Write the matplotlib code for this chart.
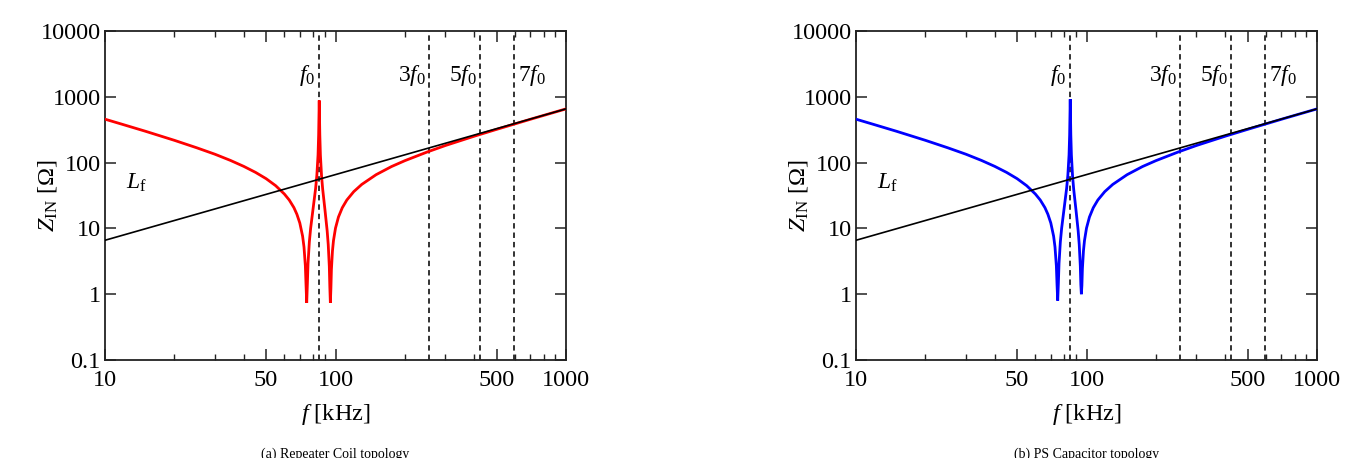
import matplotlib
matplotlib.use("Agg")
import matplotlib.pyplot as plt
from matplotlib.ticker import FixedLocator, FixedFormatter, NullFormatter

plt.rcParams['font.family'] = ['Liberation Serif', 'DejaVu Serif']
plt.rcParams['mathtext.fontset'] = 'custom'
plt.rcParams['mathtext.rm'] = 'Liberation Serif'
plt.rcParams['mathtext.it'] = 'Liberation Serif:italic'
plt.rcParams['mathtext.bf'] = 'Liberation Serif:bold'

# ---------------- data ----------------
freq_khz = [10, 12, 15, 20, 25, 30, 35, 40, 45, 50, 55, 60, 63, 66, 68, 70, 72, 73, 74,
            74.5, 75, 75.5, 76, 77, 78, 80, 82, 83, 84, 84.5, 85, 85.5, 86, 87, 88, 90,
            92, 93, 94, 94.5, 95, 95.5, 96, 97, 98, 100, 103, 107, 112, 120, 130, 150,
            175, 200, 250, 300, 400, 500, 700, 1000]

z_repeater = [457, 378, 299, 218, 168, 134, 108, 87.6, 71.0, 57.0, 44.6, 33.3, 27.0, 20.7,
              16.4, 12.1, 7.61, 5.21, 2.70, 1.38, 0.74, 1.44, 2.94, 6.22, 10.0, 20.4, 40.7,
              63.9, 131, 263, 880, 262, 130, 62.4, 39.2, 19.2, 9.22, 5.67, 2.65, 1.28, 0.74,
              1.21, 2.37, 4.52, 6.52, 10.1, 14.9, 20.6, 27.0, 36.2, 46.6, 65.5, 87.1, 107,
              145, 182, 252, 320, 455, 655]

z_ps_cap = [457, 378, 299, 218, 168, 134, 108, 87.6, 71.0, 57.0, 44.6, 33.3, 27.0, 20.7,
            16.4, 12.1, 7.61, 5.21, 2.70, 1.40, 0.80, 1.46, 2.96, 6.22, 10.0, 20.4, 40.7,
            63.9, 131, 263, 920, 262, 130, 62.4, 39.2, 19.2, 9.22, 5.67, 2.70, 1.40, 1.00,
            1.35, 2.45, 4.55, 6.52, 10.1, 14.9, 20.6, 27.0, 36.2, 46.6, 65.5, 87.1, 107,
            145, 182, 252, 320, 455, 655]

lf_freq = [10, 1000]
lf_z = [6.6, 655]

harm_freq = [85, 255, 425, 595]
harm_labels = [r'$f_0$', r'$3f_0$', r'$5f_0$', r'$7f_0$']
harm_label_side = ['left', 'left', 'left', 'right']

x_major = [10, 50, 100, 500, 1000]
x_major_labels = ['10', '50', '100', '500', '1000']
x_minor = [20, 30, 40, 60, 70, 80, 90, 200, 300, 400, 600, 700, 800, 900]
y_major = [0.1, 1, 10, 100, 1000, 10000]
y_major_labels = ['0.1', '1', '10', '100', '1000', '10000']

panels = [
    (z_repeater, '#ff0000', '(a) Repeater Coil topology'),
    (z_ps_cap, '#0000ff', '(b) PS Capacitor topology'),
]

# ---------------- figure ----------------
W, H = 1364, 458
fig = plt.figure(figsize=(W / 100, H / 100), dpi=100)

axes_px = [(105, 566), (856, 1317)]
top_px, bot_px = 31, 360

for (x0, x1), (zvals, color, caption) in zip(axes_px, panels):
    ax = fig.add_axes([x0 / W, 1 - bot_px / H, (x1 - x0) / W, (bot_px - top_px) / H])
    ax.set_xscale('log')
    ax.set_yscale('log')
    ax.set_xlim(10, 1000)
    ax.set_ylim(0.1, 10000)

    for fh in harm_freq:
        ax.axvline(fh, color='#222222', lw=1.3, ls=(0, (3, 2.2)), zorder=1)

    ax.plot(freq_khz, zvals, color=color, lw=2.0, zorder=3, solid_joinstyle='miter')
    ax.plot(lf_freq, lf_z, color='black', lw=1.2, zorder=4)

    for fh, lab, side in zip(harm_freq, harm_labels, harm_label_side):
        if side == 'left':
            ax.text(fh * 0.965, 2100, lab, ha='right', va='center', fontsize=17)
        else:
            ax.text(fh * 1.04, 2100, lab, ha='left', va='center', fontsize=17)

    ax.text(12.3, 50, r'$L_{\mathrm{f}}$', ha='left', va='center', fontsize=17)

    ax.xaxis.set_major_locator(FixedLocator(x_major))
    ax.xaxis.set_major_formatter(FixedFormatter(x_major_labels))
    ax.xaxis.set_minor_locator(FixedLocator(x_minor))
    ax.xaxis.set_minor_formatter(NullFormatter())
    ax.yaxis.set_major_locator(FixedLocator(y_major))
    ax.yaxis.set_major_formatter(FixedFormatter(y_major_labels))
    ax.yaxis.set_minor_locator(FixedLocator([]))

    ax.tick_params(axis='both', which='major', direction='in', length=8, width=1.1,
                   top=True, right=True, labelsize=17.5, colors='#222222')
    ax.tick_params(axis='x', which='minor', direction='in', length=4, width=1.0,
                   top=True, bottom=True, colors='#222222')
    ax.tick_params(axis='x', which='major', pad=7)
    ax.tick_params(axis='y', which='major', pad=3)
    for lbl in ax.get_xticklabels() + ax.get_yticklabels():
        lbl.set_color('black')

    for sp in ax.spines.values():
        sp.set_linewidth(1.3)
        sp.set_color('#222222')

    ax.set_xlabel(r'$f$ [kHz]', fontsize=17.5, labelpad=8)
    ax.set_ylabel(r'$Z_{\mathrm{IN}}$ [Ω]', fontsize=17.5)
    ax.yaxis.set_label_coords(-0.10, 0.5)

    cx = (x0 + x1) / 2 / W
    fig.text(cx, 1 - 454 / H, caption, ha='center', va='center', fontsize=10)

fig.savefig('out.png', dpi=100)
